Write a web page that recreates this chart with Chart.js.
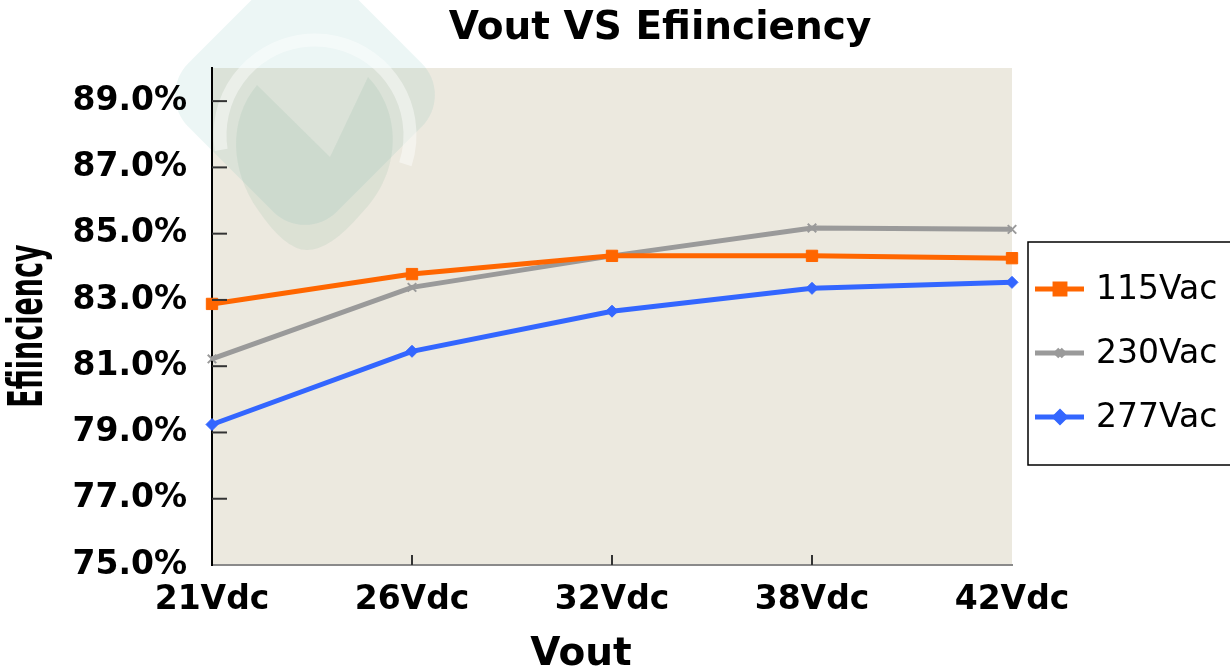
<!DOCTYPE html>
<html>
<head>
<meta charset="utf-8">
<title>Vout VS Efiinciency</title>
<script src="https://cdn.jsdelivr.net/npm/chart.js@4.4.0/dist/chart.umd.min.js"></script>
<style>
    html, body { margin: 0; padding: 0; background: #fff; }
    #wrap { width: 1230px; height: 671px; position: relative; }
</style>
</head>
<body>
<div id="wrap"><canvas id="chart" width="1230" height="671"></canvas></div>
<script>
// --- data ---
const voutLabels = ['21Vdc', '26Vdc', '32Vdc', '38Vdc', '42Vdc'];
const seriesNames = ['115Vac', '230Vac', '277Vac'];
const eff115 = [82.88, 83.78, 84.33, 84.33, 84.26];
const eff230 = [81.22, 83.38, 84.33, 85.17, 85.13];
const eff277 = [79.24, 81.45, 82.66, 83.35, 83.53];
const yTicks = [75, 77, 79, 81, 83, 85, 87, 89];
const yMin = 75;
const yMax = 90;

const seriesColors = ['#ff6600', '#9a9a9a', '#3366ff'];
const seriesPoints = ['rect', 'crossRot', 'rectRot'];
const pointSizes = [8, 6, 6];

const TITLE = 'Vout VS Efiinciency';
const X_TITLE = 'Vout';
const Y_TITLE = 'Efiinciency';

const FONT = '"DejaVu Sans", Verdana, sans-serif';

// background, watermark, inner tick marks, titles and boxed legend
const decorPlugin = {
    id: 'decor',
    beforeDraw(chart) {
        const { ctx, chartArea: a } = chart;
        ctx.save();
        ctx.fillStyle = '#ffffff';
        ctx.fillRect(0, 0, chart.width, chart.height);
        ctx.fillStyle = '#ece9df';
        ctx.fillRect(a.left, a.top, a.right - a.left, a.bottom - a.top);

        // faint logo watermark
        ctx.save();
        ctx.translate(305, 95);
        ctx.rotate(Math.PI / 4);
        ctx.fillStyle = 'rgba(80, 170, 165, 0.11)';
        ctx.beginPath();
        ctx.roundRect(-105, -105, 210, 210, 45);
        ctx.fill();
        ctx.restore();

        ctx.strokeStyle = 'rgba(255, 255, 255, 0.45)';
        ctx.lineWidth = 13;
        ctx.beginPath();
        ctx.arc(315, 135, 95, Math.PI * 0.95, Math.PI * 2.1);
        ctx.stroke();

        ctx.fillStyle = 'rgba(70, 140, 110, 0.09)';
        ctx.beginPath();
        ctx.moveTo(257, 85);
        ctx.lineTo(330, 157);
        ctx.lineTo(368, 77);
        ctx.bezierCurveTo(400, 110, 405, 170, 360, 215);
        ctx.quadraticCurveTo(330, 250, 307, 250);
        ctx.quadraticCurveTo(285, 250, 258, 210);
        ctx.bezierCurveTo(230, 170, 228, 120, 257, 85);
        ctx.fill();
        ctx.restore();
    },
    afterDraw(chart) {
        const { ctx, chartArea: a } = chart;
        const xs = chart.scales.x;
        const ys = chart.scales.y;
        ctx.save();

        // tick marks pointing into the plot
        ctx.strokeStyle = '#333';
        ctx.lineWidth = 2;
        yTicks.forEach(v => {
            const y = ys.getPixelForValue(v);
            if (v === yMin) return;
            ctx.beginPath();
            ctx.moveTo(a.left, y);
            ctx.lineTo(a.left + 15, y);
            ctx.stroke();
        });
        voutLabels.forEach((lab, i) => {
            if (i === 0 || i === voutLabels.length - 1) return;
            const x = xs.getPixelForValue(i);
            ctx.beginPath();
            ctx.moveTo(x, a.bottom);
            ctx.lineTo(x, a.bottom - 10);
            ctx.stroke();
        });

        // titles
        ctx.fillStyle = '#000';
        ctx.textAlign = 'center';
        ctx.textBaseline = 'middle';
        ctx.font = 'bold 39px ' + FONT;
        ctx.fillText(TITLE, 660, 29);
        ctx.fillText(X_TITLE, 581, 655);

        ctx.save();
        ctx.translate(30, 326);
        ctx.rotate(-Math.PI / 2);
        ctx.scale(1, 1.6);
        ctx.font = 'bold 30px "DejaVu Sans Condensed", ' + FONT;
        ctx.fillText(Y_TITLE, 0, 0);
        ctx.restore();

        // legend box
        ctx.strokeStyle = '#000';
        ctx.lineWidth = 1.5;
        ctx.strokeRect(1028, 242, 210, 223);
        chart.data.datasets.forEach((ds, i) => {
            const y = 289 + i * 64;
            ctx.strokeStyle = ds.borderColor;
            ctx.lineWidth = 5;
            ctx.beginPath();
            ctx.moveTo(1035, y);
            ctx.lineTo(1084, y);
            ctx.stroke();
            ctx.fillStyle = ds.borderColor;
            Chart.helpers.drawPoint(ctx, {
                pointStyle: ds.pointStyle,
                radius: ds.pointRadius - 1,
                borderWidth: ds.pointBorderWidth,
                rotation: 0
            }, 1060, y);
            ctx.fillStyle = '#000';
            ctx.textAlign = 'left';
            ctx.font = '33px ' + FONT;
            ctx.fillText(ds.label, 1096, y + 1);
        });
        ctx.restore();
    }
};

const allSeries = [eff115, eff230, eff277];

new Chart(document.getElementById('chart'), {
    type: 'line',
    data: {
        labels: voutLabels,
        datasets: allSeries.map((vals, i) => ({
            label: seriesNames[i],
            data: vals,
            borderColor: seriesColors[i],
            backgroundColor: seriesColors[i],
            pointBackgroundColor: seriesColors[i],
            pointBorderColor: seriesColors[i],
            borderWidth: 5,
            pointStyle: seriesPoints[i],
            pointRadius: pointSizes[i],
            pointBorderWidth: i === 1 ? 2 : 1,
            tension: 0,
            fill: false
        }))
    },
    options: {
        responsive: false,
        animation: false,
        layout: { padding: { top: 68, right: 218, left: 0, bottom: 0 } },
        plugins: {
            legend: { display: false },
            title: { display: false },
            tooltip: { enabled: false }
        },
        scales: {
            x: {
                offset: false,
                border: { display: true, color: '#8a8a8a', width: 2 },
                grid: { display: false, drawTicks: false },
                ticks: {
                    autoSkip: false,
                    maxRotation: 0,
                    padding: 16,
                    color: '#000',
                    font: { family: FONT, size: 33, weight: 'bold' }
                },
                afterFit(scale) { scale.height = 106; }
            },
            y: {
                min: yMin,
                max: yMax,
                border: { display: true, color: '#000', width: 2 },
                grid: { display: false, drawTicks: false },
                ticks: {
                    padding: 25,
                    color: '#000',
                    font: { family: FONT, size: 33, weight: 'bold' },
                    callback: v => v.toFixed(1) + '%'
                },
                afterBuildTicks(scale) { scale.ticks = yTicks.map(v => ({ value: v })); },
                afterFit(scale) { scale.width = 212; }
            }
        }
    },
    plugins: [decorPlugin]
});
</script>
</body>
</html>
